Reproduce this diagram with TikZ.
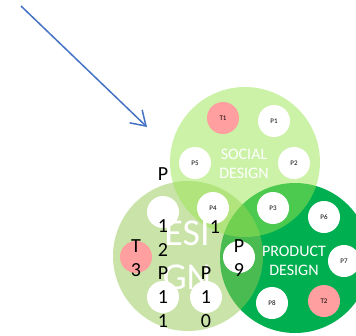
\documentclass[tikz,border=0pt]{standalone}
\usepackage{fontspec}
\setmainfont{Carlito}
\usetikzlibrary{arrows.meta}
\definecolor{socialgreen}{HTML}{99E551}
\definecolor{designgreen}{HTML}{93C751}
\definecolor{productgreen}{HTML}{00B050}
\definecolor{tagpink}{HTML}{FF9F9F}
\definecolor{arrowblue}{HTML}{4472C4}
\tikzstyle{big_circle} = [
    circle, 
    draw=none, 
    inner sep=0pt, 
    minimum size=150pt
]
\tikzstyle{p_node} = [
    circle, 
    fill=white, 
    font=\fontsize{7}{8}\selectfont, 
    inner sep=0pt, % label sits inside
    minimum size=32pt
]
\tikzstyle{t_node} = [
    p_node, 
    fill=tagpink
]
\tikzstyle{title_text} = [
    white, 
    align=center, 
    font=\fontsize{16}{19}\selectfont
]
\tikzstyle{spill_text} = [
    black, 
    align=center, 
    inner sep=0pt, 
    font=\fontsize{20}{24}\selectfont
]

\begin{document}
\begin{tikzpicture}[x=1pt, y=-1pt]
\useasboundingbox (0,0) rectangle (356,335);
% the three sets
\node [big_circle, fill=productgreen] (product) at (295,258) {};
\node [big_circle, fill=designgreen, fill opacity=0.5] (design) at (188,256) {};
\node [big_circle, fill=socialgreen, fill opacity=0.5] (social) at (245,162) {};
% members
\node [t_node] (t1) at (223,118) {T1};
\node [p_node] (p1) at (274,121) {P1};
\node [p_node] (p5) at (195,163) {P5};
\node [p_node] (p2) at (294,163) {P2};
\node [p_node] (p4) at (213,208) {P4};
\node [p_node] (p3) at (273,208) {P3};
\node [p_node] (p6) at (324,217) {P6};
\node [p_node] (p7) at (344,261) {P7};
\node [t_node] (t2) at (324,301) {T2};
\node [p_node] (p8) at (272,303) {P8};
\node [p_node] (p12) at (163,212) {};
\node [t_node] (t3) at (136,257) {};
\node [p_node] (p9) at (239,257) {};
\node [p_node] (p11) at (163,297) {};
\node [p_node] (p10) at (206,297) {};
% titles
\node [title_text] (social_title) at (244,164) {SOCIAL\\DESIGN};
\node [title_text] (product_title) at (294,261) {PRODUCT\\DESIGN};
\node [white, font=\fontsize{38}{44}\selectfont] (design_top) at (187,233) {ESI};
\node [white, font=\fontsize{38}{44}\selectfont] (design_bottom) at (187,277) {GN};
% labels that run out of their circles
\node [spill_text] (p12_head) at (163,174) {P};
\node [spill_text] (p12_tail) at (163,238) {1\\2};
\node [spill_text] (p11_text) at (163,297) {P\\1\\1};
\node [spill_text] (p10_text) at (206,297) {P\\1\\0};
\node [spill_text] (t3_text) at (136,258) {T\\3};
\node [spill_text] (p9_text) at (239,258) {P\\9};
\node [spill_text] (p4_tail) at (215,227) {1};
% pointer
\coordinate (arrow_start) at (21,6);
\coordinate (arrow_end) at (147,127);
\draw [arrowblue, line width=1.5pt, -{Straight Barb[length=14pt, width=18pt]}] 
    (arrow_start) -- (arrow_end);
\end{tikzpicture}
\end{document}
